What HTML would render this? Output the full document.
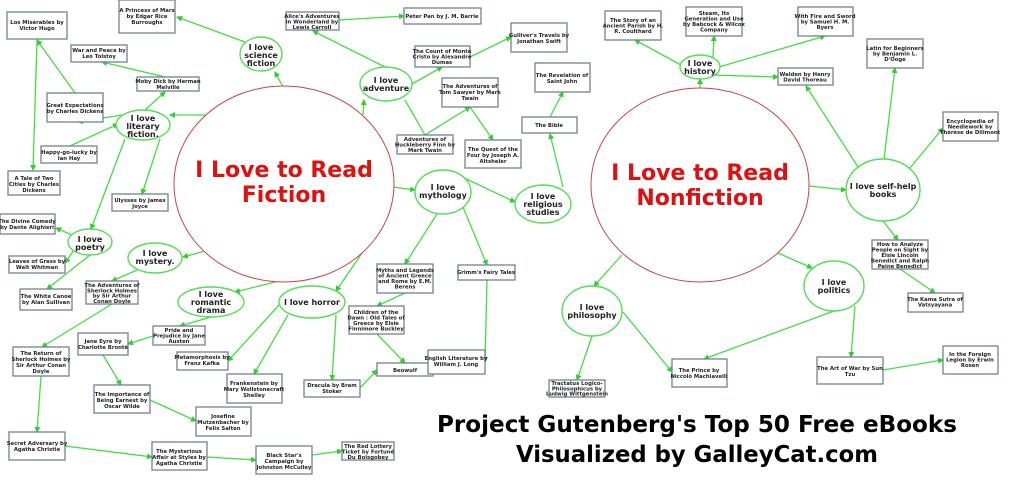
<!DOCTYPE html>
<html><head><meta charset="utf-8"><style>
html,body{margin:0;padding:0;background:#fff;width:1024px;height:487px;overflow:hidden}
svg{display:block}
.b{fill:#fff;stroke:#6f8294;stroke-width:1.3}
.e{fill:#fff;stroke:#55dd55;stroke-width:1.4}
.l{stroke:#44dd44;stroke-width:1.3;fill:none}
.a{marker-end:url(#ar)}
.t{font-family:"DejaVu Sans","Liberation Sans",sans-serif;font-weight:bold;font-size:5.3px;fill:#222;text-anchor:middle}
.et{font-family:"DejaVu Sans","Liberation Sans",sans-serif;font-weight:bold;font-size:8px;fill:#222;text-anchor:middle}
.big{font-family:"DejaVu Sans","Liberation Sans",sans-serif;font-weight:bold;font-size:22px;fill:#e01010;text-anchor:middle}
.ti{font-family:"DejaVu Sans","Liberation Sans",sans-serif;font-weight:bold;font-size:23px;fill:#000}
</style></head><body>
<svg width="1024" height="487" viewBox="0 0 1024 487" xmlns="http://www.w3.org/2000/svg">
<defs><marker id="ar" markerWidth="6" markerHeight="6" refX="5" refY="3" orient="auto" markerUnits="userSpaceOnUse"><path d="M0,0 L6,3 L0,6 z" fill="#33cc33"/></marker></defs>
<g class="l">
<line class="a" x1="283" y1="87" x2="275" y2="72"/>
<line class="a" x1="245" y1="42" x2="177" y2="17"/>
<line class="a" x1="206" y1="115" x2="170" y2="115"/>
<line class="a" x1="145" y1="110" x2="165" y2="92"/>
<line class="a" x1="165" y1="77" x2="102" y2="62"/>
<line class="a" x1="122" y1="115" x2="78" y2="122"/>
<line class="a" x1="70" y1="146" x2="118" y2="124"/>
<line class="a" x1="75" y1="93" x2="37" y2="40"/>
<line class="a" x1="37" y1="40" x2="33" y2="170"/>
<line class="a" x1="160" y1="139" x2="142" y2="194"/>
<line class="a" x1="125" y1="139" x2="91" y2="229"/>
<line class="a" x1="72" y1="235" x2="56" y2="228"/>
<line class="a" x1="74" y1="250" x2="65" y2="263"/>
<line class="a" x1="90" y1="255" x2="47" y2="289"/>
<line class="a" x1="205" y1="251" x2="183" y2="257"/>
<line class="a" x1="137" y1="270" x2="112" y2="281"/>
<line class="a" x1="112" y1="304" x2="42" y2="347"/>
<line class="a" x1="41" y1="376" x2="37" y2="432"/>
<line class="a" x1="65" y1="446" x2="152" y2="457"/>
<line class="a" x1="207" y1="457" x2="256" y2="460"/>
<line class="a" x1="312" y1="455" x2="342" y2="451"/>
<line class="a" x1="283" y1="280" x2="235" y2="292"/>
<line class="a" x1="211" y1="317" x2="180" y2="326"/>
<line class="a" x1="153" y1="336" x2="128" y2="344"/>
<line class="a" x1="103" y1="355" x2="121" y2="385"/>
<line class="a" x1="150" y1="400" x2="196" y2="421"/>
<line class="a" x1="362" y1="253" x2="336" y2="291"/>
<line class="a" x1="280" y1="304" x2="228" y2="361"/>
<line class="a" x1="288" y1="315" x2="254" y2="374"/>
<line class="a" x1="336" y1="315" x2="332" y2="380"/>
<line class="a" x1="360" y1="388" x2="377" y2="370"/>
<line class="a" x1="377" y1="334" x2="405" y2="363"/>
<line class="a" x1="405" y1="293" x2="377" y2="306"/>
<line class="a" x1="442" y1="360" x2="433" y2="367"/>
<line class="a" x1="437" y1="214" x2="405" y2="264"/>
<line class="a" x1="463" y1="207" x2="487" y2="265"/>
<line class="a" x1="487" y1="280" x2="485" y2="362"/>
<line class="a" x1="393" y1="187" x2="415" y2="190"/>
<line class="a" x1="460" y1="176" x2="515" y2="202"/>
<line class="a" x1="563" y1="187" x2="550" y2="134"/>
<line class="a" x1="550" y1="117" x2="563" y2="92"/>
<line class="a" x1="363" y1="115" x2="364" y2="100"/>
<line class="a" x1="385" y1="67" x2="313" y2="31"/>
<line class="a" x1="339" y1="20" x2="404" y2="16"/>
<line class="a" x1="412" y1="84" x2="442" y2="67"/>
<line class="a" x1="470" y1="57" x2="511" y2="37"/>
<line x1="405" y1="100" x2="425" y2="135"/>
<line class="a" x1="425" y1="135" x2="470" y2="107"/>
<line class="a" x1="470" y1="107" x2="493" y2="140"/>
<line class="a" x1="700" y1="88" x2="700" y2="79"/>
<line class="a" x1="681" y1="65" x2="635" y2="40"/>
<line class="a" x1="713" y1="57" x2="714" y2="36"/>
<line class="a" x1="719" y1="67" x2="825" y2="36"/>
<line class="a" x1="712" y1="75" x2="778" y2="77"/>
<line class="a" x1="858" y1="167" x2="806" y2="86"/>
<line class="a" x1="884" y1="159" x2="895" y2="68"/>
<line class="a" x1="910" y1="168" x2="943" y2="128"/>
<line class="a" x1="809" y1="186" x2="846" y2="190"/>
<line class="a" x1="883" y1="221" x2="898" y2="240"/>
<line class="a" x1="900" y1="269" x2="935" y2="293"/>
<line class="a" x1="778" y1="253" x2="812" y2="268"/>
<line class="a" x1="622" y1="255" x2="594" y2="286"/>
<line class="a" x1="592" y1="336" x2="577" y2="380"/>
<line class="a" x1="623" y1="312" x2="672" y2="372"/>
<line class="a" x1="834" y1="311" x2="704" y2="359"/>
<line class="a" x1="855" y1="306" x2="851" y2="357"/>
<line class="a" x1="883" y1="370" x2="943" y2="360"/>
</g>
<ellipse cx="284" cy="184" rx="110" ry="98" fill="#fff" stroke="#cc4444" stroke-width="1"/>
<text class="big" x="284" y="177">I Love to Read</text>
<text class="big" x="284" y="202">Fiction</text>
<ellipse cx="700" cy="185" rx="109" ry="97" fill="#fff" stroke="#cc4444" stroke-width="1"/>
<text class="big" x="700" y="180">I Love to Read</text>
<text class="big" x="700" y="205">Nonfiction</text>
<g>
<ellipse class="e" cx="261" cy="54" rx="21" ry="17"/><text class="et" x="261" y="50">I love<tspan x="261" dy="8">science</tspan><tspan x="261" dy="8">fiction</tspan></text>
<ellipse class="e" cx="143" cy="125" rx="27" ry="15"/><text class="et" x="143" y="121">I love<tspan x="143" dy="8">literary</tspan><tspan x="143" dy="8">fiction.</tspan></text>
<ellipse class="e" cx="90" cy="242" rx="22" ry="13"/><text class="et" x="90" y="242">I love<tspan x="90" dy="8">poetry</tspan></text>
<ellipse class="e" cx="155" cy="258" rx="27" ry="15"/><text class="et" x="155" y="256">I love<tspan x="155" dy="8">mystery.</tspan></text>
<ellipse class="e" cx="211" cy="302" rx="33" ry="15"/><text class="et" x="211" y="297">I love<tspan x="211" dy="8">romantic</tspan><tspan x="211" dy="8">drama</tspan></text>
<ellipse class="e" cx="312" cy="302" rx="33" ry="16"/><text class="et" x="312" y="305">I love horror</text>
<ellipse class="e" cx="386" cy="84" rx="26" ry="17"/><text class="et" x="386" y="83">I love<tspan x="386" dy="8">adventure</tspan></text>
<ellipse class="e" cx="443" cy="192" rx="28" ry="22"/><text class="et" x="443" y="190">I love<tspan x="443" dy="8">mythology</tspan></text>
<ellipse class="e" cx="543" cy="204" rx="28" ry="19"/><text class="et" x="543" y="199">I love<tspan x="543" dy="8">religious</tspan><tspan x="543" dy="8">studies</tspan></text>
<ellipse class="e" cx="700" cy="67" rx="20" ry="12"/><text class="et" x="700" y="66">I love<tspan x="700" dy="8">history</tspan></text>
<ellipse class="e" cx="883" cy="190" rx="37" ry="31"/><text class="et" x="883" y="189">I love self-help<tspan x="883" dy="8">books</tspan></text>
<ellipse class="e" cx="834" cy="286" rx="30" ry="25"/><text class="et" x="834" y="285">I love<tspan x="834" dy="8">politics</tspan></text>
<ellipse class="e" cx="592" cy="311" rx="30" ry="25"/><text class="et" x="592" y="310">I love<tspan x="592" dy="8">philosophy</tspan></text>
</g>
<g>
<rect class="b" x="7" y="12" width="60" height="27"/><text class="t" x="37" y="24">Los Misérables by<tspan x="37" dy="6">Victor Hugo</tspan></text>
<rect class="b" x="119" y="0" width="56" height="33"/><text class="t" x="147" y="12">A Princess of Mars<tspan x="147" dy="6">by Edgar Rice</tspan><tspan x="147" dy="6">Burroughs</tspan></text>
<rect class="b" x="71" y="45" width="56" height="17"/><text class="t" x="99" y="52">War and Peace by<tspan x="99" dy="6">Leo Tolstoy</tspan></text>
<rect class="b" x="137" y="77" width="62" height="14"/><text class="t" x="168" y="83">Moby Dick by Herman<tspan x="168" dy="6">Melville</tspan></text>
<rect class="b" x="47" y="93" width="56" height="29"/><text class="t" x="75" y="107">Great Expectations<tspan x="75" dy="6">by Charles Dickens</tspan></text>
<rect class="b" x="41" y="146" width="56" height="17"/><text class="t" x="69" y="154">Happy-go-lucky by<tspan x="69" dy="6">Ian Hay</tspan></text>
<rect class="b" x="8" y="171" width="52" height="24"/><text class="t" x="34" y="180">A Tale of Two<tspan x="34" dy="6">Cities by Charles</tspan><tspan x="34" dy="6">Dickens</tspan></text>
<rect class="b" x="112" y="194" width="56" height="17"/><text class="t" x="140" y="202">Ulysses by James<tspan x="140" dy="6">Joyce</tspan></text>
<rect class="b" x="0" y="214" width="55" height="20"/><text class="t" x="27" y="228" dy="-5">The Divine Comedy<tspan x="27" dy="6">by Dante Alighieri</tspan></text>
<rect class="b" x="286" y="12" width="53" height="18"/><text class="t" x="312" y="18">Alice's Adventures<tspan x="312" dy="5.5">in Wonderland by</tspan><tspan x="312" dy="5.5">Lewis Carroll</tspan></text>
<rect class="b" x="404" y="8" width="77" height="16"/><text class="t" x="442" y="18">Peter Pan by J. M. Barrie</text>
<rect class="b" x="415" y="46" width="55" height="21"/><text class="t" x="442" y="53">The Count of Monte<tspan x="442" dy="5.5">Cristo by Alexandre</tspan><tspan x="442" dy="5.5">Dumas</tspan></text>
<rect class="b" x="511" y="23" width="56" height="29"/><text class="t" x="539" y="37">Gulliver's Travels by<tspan x="539" dy="6">Jonathan Swift</tspan></text>
<rect class="b" x="442" y="78" width="56" height="29"/><text class="t" x="470" y="88">The Adventures of<tspan x="470" dy="6">Tom Sawyer by Mark</tspan><tspan x="470" dy="6">Twain</tspan></text>
<rect class="b" x="397" y="135" width="56" height="19"/><text class="t" x="425" y="141">Adventures of<tspan x="425" dy="5.5">Huckleberry Finn by</tspan><tspan x="425" dy="5.5">Mark Twain</tspan></text>
<rect class="b" x="465" y="140" width="56" height="28"/><text class="t" x="493" y="151">The Quest of the<tspan x="493" dy="6">Four by Joseph A.</tspan><tspan x="493" dy="6">Altsheler</tspan></text>
<rect class="b" x="535" y="63" width="55" height="29"/><text class="t" x="562" y="77">The Revelation of<tspan x="562" dy="6">Saint John</tspan></text>
<rect class="b" x="522" y="117" width="55" height="16"/><text class="t" x="549" y="127">The Bible</text>
<rect class="b" x="9" y="256" width="56" height="17"/><text class="t" x="37" y="263">Leaves of Grass by<tspan x="37" dy="6">Walt Whitman</tspan></text>
<rect class="b" x="20" y="289" width="52" height="21"/><text class="t" x="46" y="298">The White Canoe<tspan x="46" dy="6">by Alan Sullivan</tspan></text>
<rect class="b" x="86" y="281" width="52" height="23"/><text class="t" x="112" y="287">The Adventures of<tspan x="112" dy="5.3">Sherlock Holmes</tspan><tspan x="112" dy="5.3">by Sir Arthur</tspan><tspan x="112" dy="5.3">Conan Doyle</tspan></text>
<rect class="b" x="13" y="347" width="56" height="29"/><text class="t" x="41" y="355">The Return of<tspan x="41" dy="6">Sherlock Holmes by</tspan><tspan x="41" dy="6">Sir Arthur Conan</tspan><tspan x="41" dy="6">Doyle</tspan></text>
<rect class="b" x="153" y="326" width="52" height="19"/><text class="t" x="179" y="332">Pride and<tspan x="179" dy="5.5">Prejudice by Jane</tspan><tspan x="179" dy="5.5">Austen</tspan></text>
<rect class="b" x="78" y="333" width="50" height="22"/><text class="t" x="103" y="343">Jane Eyre by<tspan x="103" dy="6">Charlotte Brontë</tspan></text>
<rect class="b" x="94" y="385" width="56" height="28"/><text class="t" x="122" y="396">The Importance of<tspan x="122" dy="6">Being Earnest by</tspan><tspan x="122" dy="6">Oscar Wilde</tspan></text>
<rect class="b" x="196" y="407" width="55" height="29"/><text class="t" x="223" y="418">Josefine<tspan x="223" dy="6">Mutzenbacher by</tspan><tspan x="223" dy="6">Felix Salten</tspan></text>
<rect class="b" x="177" y="352" width="51" height="18"/><text class="t" x="202" y="359">Metamorphosis by<tspan x="202" dy="6">Franz Kafka</tspan></text>
<rect class="b" x="227" y="374" width="55" height="29"/><text class="t" x="254" y="385">Frankenstein by<tspan x="254" dy="6">Mary Wollstonecraft</tspan><tspan x="254" dy="6">Shelley</tspan></text>
<rect class="b" x="304" y="380" width="56" height="17"/><text class="t" x="332" y="387">Dracula by Bram<tspan x="332" dy="6">Stoker</tspan></text>
<rect class="b" x="377" y="264" width="56" height="29"/><text class="t" x="405" y="272">Myths and Legends<tspan x="405" dy="5.5">of Ancient Greece</tspan><tspan x="405" dy="5.5">and Rome by E.M.</tspan><tspan x="405" dy="5.5">Berens</tspan></text>
<rect class="b" x="349" y="306" width="55" height="28"/><text class="t" x="376" y="314">Children of the<tspan x="376" dy="5.5">Dawn : Old Tales of</tspan><tspan x="376" dy="5.5">Greece by Elsie</tspan><tspan x="376" dy="5.5">Finnimore Buckley</tspan></text>
<rect class="b" x="377" y="363" width="56" height="13"/><text class="t" x="405" y="372">Beowulf</text>
<rect class="b" x="458" y="265" width="57" height="15"/><text class="t" x="486" y="274">Grimm's Fairy Tales</text>
<rect class="b" x="428" y="350" width="57" height="24"/><text class="t" x="456" y="360">English Literature by<tspan x="456" dy="6">William J. Long</tspan></text>
<rect class="b" x="9" y="432" width="56" height="28"/><text class="t" x="37" y="445">Secret Adversary by<tspan x="37" dy="6">Agatha Christie</tspan></text>
<rect class="b" x="152" y="442" width="55" height="28"/><text class="t" x="179" y="453">The Mysterious<tspan x="179" dy="6">Affair at Styles by</tspan><tspan x="179" dy="6">Agatha Christie</tspan></text>
<rect class="b" x="256" y="446" width="56" height="28"/><text class="t" x="284" y="457">Black Star's<tspan x="284" dy="6">Campaign by</tspan><tspan x="284" dy="6">Johnston McCulley</tspan></text>
<rect class="b" x="342" y="442" width="52" height="18"/><text class="t" x="368" y="448">The Red Lottery<tspan x="368" dy="5.5">Ticket by Fortuné</tspan><tspan x="368" dy="5.5">Du Boisgobey</tspan></text>
<rect class="b" x="605" y="11" width="56" height="29"/><text class="t" x="633" y="22">The Story of an<tspan x="633" dy="5.5">Ancient Parish by H.</tspan><tspan x="633" dy="5.5">R. Coulthard</tspan></text>
<rect class="b" x="686" y="7" width="56" height="29"/><text class="t" x="714" y="15">Steam, Its<tspan x="714" dy="5.5">Generation and Use</tspan><tspan x="714" dy="5.5">by Babcock &amp; Wilcox</tspan><tspan x="714" dy="5.5">Company</tspan></text>
<rect class="b" x="798" y="7" width="55" height="29"/><text class="t" x="825" y="18">With Fire and Sword<tspan x="825" dy="5.5">by Samuel H. M.</tspan><tspan x="825" dy="5.5">Byers</tspan></text>
<rect class="b" x="778" y="68" width="55" height="17"/><text class="t" x="805" y="76">Walden by Henry<tspan x="805" dy="5.5">David Thoreau</tspan></text>
<rect class="b" x="867" y="39" width="56" height="29"/><text class="t" x="895" y="50">Latin for Beginners<tspan x="895" dy="5.5">by Benjamin L.</tspan><tspan x="895" dy="5.5">D'Ooge</tspan></text>
<rect class="b" x="943" y="112" width="55" height="29"/><text class="t" x="970" y="123">Encyclopedia of<tspan x="970" dy="5.5">Needlework by</tspan><tspan x="970" dy="5.5">Thérèse de Dillmont</tspan></text>
<rect class="b" x="872" y="240" width="56" height="29"/><text class="t" x="900" y="246">How to Analyze<tspan x="900" dy="5.5">People on Sight by</tspan><tspan x="900" dy="5.5">Elsie Lincoln</tspan><tspan x="900" dy="5.5">Benedict and Ralph</tspan><tspan x="900" dy="5.5">Paine Benedict</tspan></text>
<rect class="b" x="908" y="293" width="55" height="19"/><text class="t" x="935" y="301">The Kama Sutra of<tspan x="935" dy="5.5">Vatsyayana</tspan></text>
<rect class="b" x="549" y="380" width="56" height="17"/><text class="t" x="577" y="385">Tractatus Logico-<tspan x="577" dy="5.3">Philosophicus by</tspan><tspan x="577" dy="5.3">Ludwig Wittgenstein</tspan></text>
<rect class="b" x="672" y="359" width="55" height="28"/><text class="t" x="699" y="372">The Prince by<tspan x="699" dy="6">Niccolò Machiavelli</tspan></text>
<rect class="b" x="817" y="357" width="66" height="27"/><text class="t" x="850" y="370">The Art of War by Sun<tspan x="850" dy="6">Tzu</tspan></text>
<rect class="b" x="943" y="346" width="55" height="28"/><text class="t" x="970" y="356">In the Foreign<tspan x="970" dy="5.5">Legion by Erwin</tspan><tspan x="970" dy="5.5">Rosen</tspan></text>
</g>
<text class="ti" x="437" y="432" textLength="520" lengthAdjust="spacingAndGlyphs">Project Gutenberg's Top 50 Free eBooks</text>
<text class="ti" x="516" y="462" textLength="362" lengthAdjust="spacingAndGlyphs">Visualized by GalleyCat.com</text>
</svg>
</body></html>
